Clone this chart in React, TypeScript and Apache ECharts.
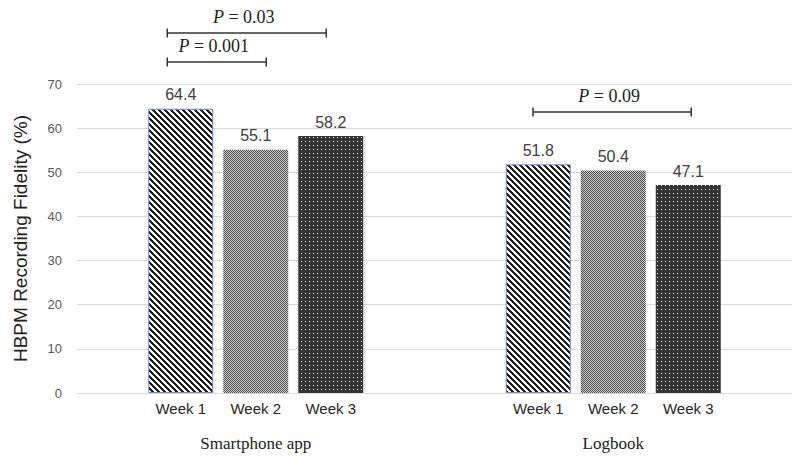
import React, { useEffect, useRef } from "react";
import * as echarts from "echarts";

const groups = ["Smartphone app", "Logbook"];
const weeks = ["Week 1", "Week 2", "Week 3"];
const week1 = [64.4, 51.8];
const week2 = [55.1, 50.4];
const week3 = [58.2, 47.1];
const yTicks = { min: 0, max: 70, interval: 10 };

// significance brackets: group index, start/end in bar slots (0 = Week 1), level (y value), p text
const bracketGroup = [0, 0, 1];
const bracketFrom = [-0.18, -0.18, -0.07];
const bracketTo = [1.14, 1.94, 2.04];
const bracketLevel = [75.0, 81.55, 63.65];
const bracketP = ["0.001", "0.03", "0.09"];

const BAR_W = 65;
const BAR_GAP = 10;
const SLOT = BAR_W + BAR_GAP;

function makeTile(w: number, h: number, fn: (x: number, y: number) => [number, number, number]) {
  const c = document.createElement("canvas");
  c.width = w;
  c.height = h;
  const ctx = c.getContext("2d")!;
  const img = ctx.createImageData(w, h);
  for (let y = 0; y < h; y++) {
    for (let x = 0; x < w; x++) {
      const [r, g, b] = fn(x, y);
      const k = (y * w + x) * 4;
      img.data[k] = r;
      img.data[k + 1] = g;
      img.data[k + 2] = b;
      img.data[k + 3] = 255;
    }
  }
  ctx.putImageData(img, 0, 0);
  return { image: c.toDataURL(), repeat: "repeat", imageWidth: w, imageHeight: h } as any;
}

export default function App() {
  const ref = useRef<HTMLDivElement>(null);
  useEffect(() => {
    if (!ref.current) return;
    const chart = echarts.init(ref.current, null, { renderer: "svg" });

    const stripes = makeTile(6, 6, (x, y) => {
      const d = (((x - y) % 6) + 6) % 6;
      return d < 3 ? [30, 30, 30] : [255, 255, 255];
    });
    const checker = makeTile(2, 2, (x, y) => ((x + y) % 2 === 0 ? [75, 75, 75] : [205, 205, 205]));
    const dots = makeTile(4, 4, (x, y) => (x === 1 && y === 1 ? [235, 235, 235] : [52, 52, 52]));

    const sans = "Liberation Sans";
    const serif = "Liberation Serif";

    const barLabel = {
      show: true,
      position: "top",
      distance: 6,
      color: "#404040",
      fontFamily: sans,
      fontSize: 16,
    };

    chart.setOption({
      animation: false,
      backgroundColor: "#ffffff",
      grid: { left: 77, right: 8, top: 84, bottom: 68, containLabel: false },
      xAxis: {
        type: "category",
        data: groups,
        axisLine: { show: true, lineStyle: { color: "#d9d9d9", width: 1 } },
        axisTick: { show: false },
        splitLine: { show: false },
        axisLabel: {
          margin: 5,
          interval: 0,
          formatter: (v: string) =>
            `{w|${weeks[0]}}{g|}{w|${weeks[1]}}{g|}{w|${weeks[2]}}\n{c|${v}}`,
          rich: {
            w: { width: BAR_W, align: "center", fontFamily: sans, fontSize: 15, color: "#262626", lineHeight: 20 },
            g: { width: BAR_GAP, lineHeight: 20 },
            c: { fontFamily: serif, fontSize: 17, color: "#222222", lineHeight: 50 },
          },
        },
      },
      yAxis: {
        type: "value",
        min: yTicks.min,
        max: yTicks.max,
        interval: yTicks.interval,
        name: "HBPM Recording Fidelity (%)",
        nameLocation: "middle",
        nameGap: 47,
        nameTextStyle: { fontFamily: sans, fontSize: 19, color: "#222222" },
        axisLine: { show: false },
        axisTick: { show: false },
        axisLabel: { margin: 15, fontFamily: sans, fontSize: 13, color: "#595959" },
        splitLine: { lineStyle: { color: "#d9d9d9", width: 1 } },
      },
      series: [
        {
          name: weeks[0],
          type: "bar",
          data: week1,
          barWidth: BAR_W,
          barGap: `${(BAR_GAP / BAR_W) * 100}%`,
          itemStyle: { color: stripes, borderColor: "#7088c8", borderWidth: 1 },
          label: barLabel,
        },
        {
          name: weeks[1],
          type: "bar",
          data: week2,
          barWidth: BAR_W,
          barGap: `${(BAR_GAP / BAR_W) * 100}%`,
          itemStyle: { color: checker },
          label: barLabel,
        },
        {
          name: weeks[2],
          type: "bar",
          data: week3,
          barWidth: BAR_W,
          barGap: `${(BAR_GAP / BAR_W) * 100}%`,
          itemStyle: { color: dots },
          label: barLabel,
        },
        {
          type: "custom",
          clip: false,
          z: 10,
          encode: { x: 0, y: 3 },
          data: bracketGroup.map((g, i) => [g, bracketFrom[i], bracketTo[i], bracketLevel[i]]),
          renderItem: (params: any, api: any) => {
            const i = params.dataIndex;
            const base = api.coord([api.value(0), api.value(3)]);
            const firstCenter = base[0] - SLOT;
            const x1 = firstCenter + api.value(1) * SLOT;
            const x2 = firstCenter + api.value(2) * SLOT;
            const y = base[1];
            const st = { stroke: "#333333", lineWidth: 1.5 };
            return {
              type: "group",
              children: [
                { type: "line", shape: { x1, y1: y, x2, y2: y }, style: st },
                { type: "line", shape: { x1, y1: y - 4.5, x2: x1, y2: y + 4.5 }, style: st },
                { type: "line", shape: { x1: x2, y1: y - 4.5, x2, y2: y + 4.5 }, style: st },
                {
                  type: "text",
                  x: (x1 + x2) / 2 - 3,
                  y: y - 16,
                  style: {
                    text: `{i|P}{n| = ${bracketP[i]}}`,
                    align: "center",
                    verticalAlign: "middle",
                    fontFamily: serif,
                    fontSize: 18,
                    fill: "#222222",
                    rich: {
                      i: { fontFamily: serif, fontSize: 18, fontStyle: "italic", fill: "#222222" },
                      n: { fontFamily: serif, fontSize: 18, fill: "#222222" },
                    },
                  },
                },
              ],
            };
          },
        },
      ],
    });
    return () => chart.dispose();
  }, []);
  return (
    <div
      ref={ref}
      style={{ position: "absolute", left: 0, top: 0, width: 800, height: 461, background: "#fff" }}
    />
  );
}
